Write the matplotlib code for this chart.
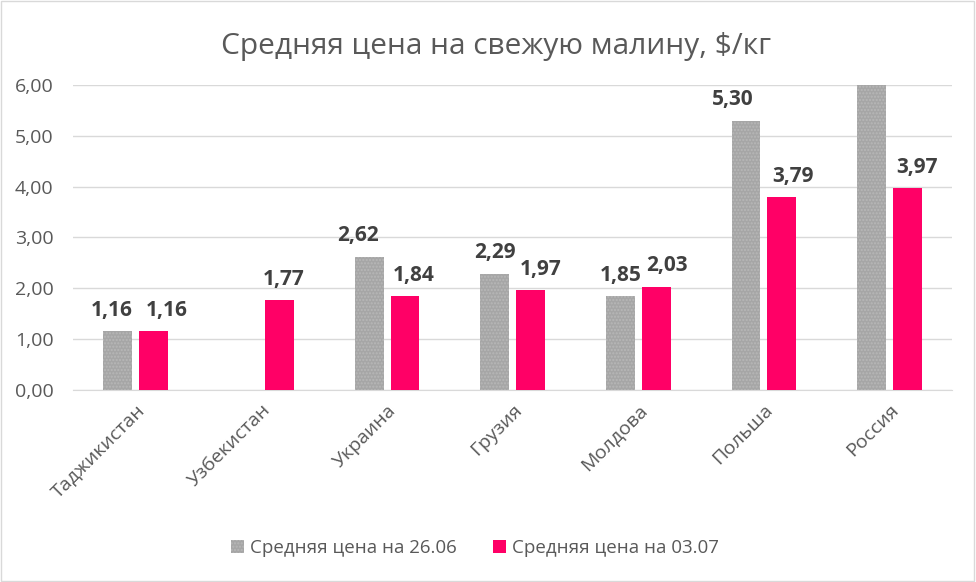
import matplotlib.pyplot as plt
import numpy as np

plt.rcParams['font.family'] = ['Open Sans', 'DejaVu Sans']

countries = ['Таджикистан', 'Узбекистан', 'Украина', 'Грузия', 'Молдова', 'Польша', 'Россия']
price_2606 = [1.16, np.nan, 2.62, 2.29, 1.85, 5.30, 6.40]  # Россия выходит за шкалу
price_0307 = [1.16, 1.77, 1.84, 1.97, 2.03, 3.79, 3.97]
yticks = [0, 1, 2, 3, 4, 5, 6]

# горизонтальный сдвиг подписей (pt), как в исходной диаграмме
dx_2606 = [-4.5, 0, -8, 0, 0, -9.5, 0]
dx_0307 = [9, 3, 6, 7, 8, 8, 7]

fig = plt.figure(figsize=(9.76, 5.82), dpi=100)
ax = fig.add_axes([0.0748, 0.330, 0.901, 0.524])

x = np.arange(len(countries))
w = 0.23
gap = 0.028
gray = ax.bar(x - w / 2 - gap, price_2606, w, color='#A6A6A6', hatch='.....',
              edgecolor='#B8B8B8', linewidth=0, label='Средняя цена на 26.06', zorder=3)
pink = ax.bar(x + w / 2 + gap, price_0307, w, color='#FF0066',
              label='Средняя цена на 03.07', zorder=3)

for bars, vals, dxs in [(gray, price_2606, dx_2606), (pink, price_0307, dx_0307)]:
    for b, v, dx in zip(bars, vals, dxs):
        if np.isnan(v) or v > 6:
            continue
        ax.annotate(f'{v:.2f}'.replace('.', ','), (b.get_x() + b.get_width() / 2, v),
                    xytext=(dx, 11), textcoords='offset points',
                    ha='center', va='baseline',
                    fontsize=15, fontweight='bold', color='#404040')

ax.set_xlim(-0.5, len(countries) - 0.5)
ax.set_ylim(0, 6)
ax.set_yticks(yticks)
ax.set_yticklabels([f'{t:.2f}'.replace('.', ',') for t in yticks], fontsize=14, color='#595959')
ax.set_xticks(x)
ax.set_xticklabels(countries, rotation=45, ha='right', rotation_mode='anchor',
                   fontsize=14, color='#595959')
ax.tick_params(length=0)
ax.tick_params(axis='y', pad=14)
ax.tick_params(axis='x', pad=8)
ax.grid(axis='y', color='#D9D9D9', linewidth=1, zorder=0)
for s in ['top', 'right', 'left']:
    ax.spines[s].set_visible(False)
ax.spines['bottom'].set_color('#D9D9D9')

fig.suptitle('Средняя цена на свежую малину, $/кг', x=0.508, y=0.945, fontsize=21.5,
             color='#595959')
fig.legend(handles=[gray, pink], loc='center', bbox_to_anchor=(0.487, 0.058), ncol=2,
           frameon=False, fontsize=13.5, handlelength=0.65, handleheight=0.65,
           columnspacing=1.95, handletextpad=0.35, labelcolor='#595959')

fig.patches.append(plt.Rectangle((0.001, 0.001), 0.997, 0.997, transform=fig.transFigure,
                                 fill=False, edgecolor='#D9D9D9', linewidth=1))

fig.savefig('out.png', dpi=100)
